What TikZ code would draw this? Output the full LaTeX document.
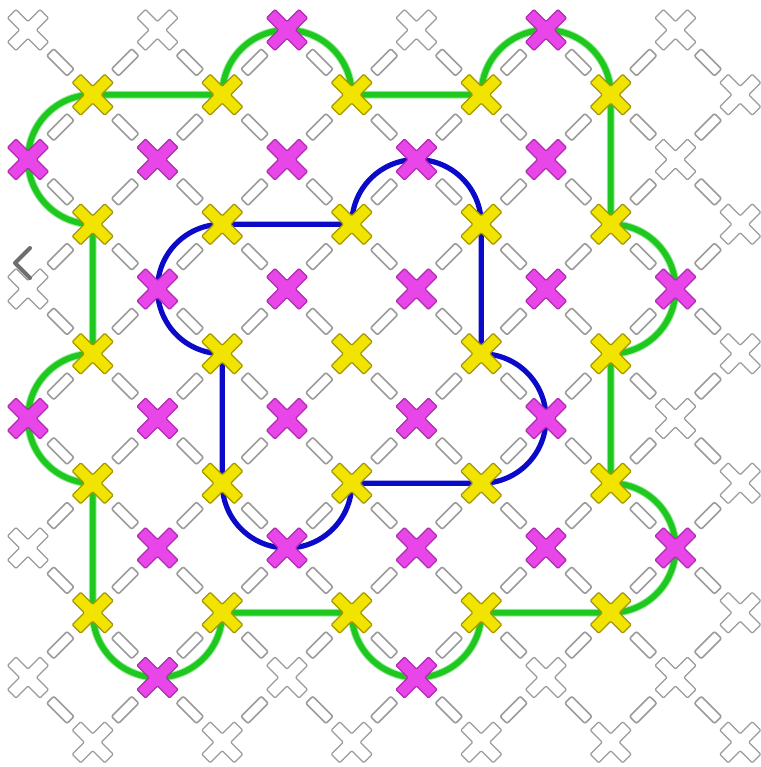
\documentclass[tikz,border=0pt]{standalone}
\definecolor{ygfill}{RGB}{240,228,0}
\definecolor{ygline}{RGB}{165,150,0}
\definecolor{mgfill}{RGB}{232,70,232}
\definecolor{mgline}{RGB}{175,45,175}
\definecolor{grline}{RGB}{155,155,155}
\definecolor{loopgreen}{RGB}{30,200,30}
\definecolor{loophalo}{RGB}{160,235,160}
\definecolor{loopblue}{RGB}{10,10,200}
\definecolor{chev}{RGB}{110,110,110}
\makeatletter
\newcommand\mkkind[2]{%
  \def\fc{white}\def\dc{grline}%
  \ifodd#1\relax\ifodd#2\relax\ifnum#1<10 \ifnum#2<10 \def\fc{ygfill}\def\dc{ygline}\fi\fi\fi\fi
  \edef\mk@key{,#1-#2,}%
  \expandafter\in@\expandafter{\mk@key}{,4-0,8-0,0-2,2-2,4-2,6-2,8-2,2-4,4-4,6-4,8-4,10-4,0-6,2-6,4-6,6-6,8-6,2-8,4-8,6-8,8-8,10-8,2-10,6-10,}%
  \ifin@\def\fc{mgfill}\def\dc{mgline}\fi}
\makeatother
\tikzset{
  xmark/.pic={\path[pic actions, rotate=45, rounded corners=0.8pt]
    (6,23) -- (6,6) -- (23,6) -- (23,-6) -- (6,-6) -- (6,-23)
    -- (-6,-23) -- (-6,-6) -- (-23,-6) -- (-23,6) -- (-6,6) -- (-6,23) -- cycle;},
  dashbox/.style={rectangle, draw=grline, fill=white, line width=1.2pt,
    minimum width=21.5pt, minimum height=7.5pt, inner sep=0pt, rounded corners=1.5pt},
  greenloop/.style={draw=loopgreen, line width=4.4pt, line join=round,
    preaction={draw=loophalo, line width=5.9pt}},
  blueloop/.style={draw=loopblue, line width=3.9pt, line join=round},
}
\begin{document}
\begin{tikzpicture}[x=0.75pt, y=-0.75pt]
\fill[white] (0,0) rectangle (760,767);
\useasboundingbox (0,0) rectangle (760,767);
\def\R{48.5625pt}
% lattice points
\foreach \a in {0,...,11}{\foreach \b in {0,...,11}{%
  \ifodd\numexpr\a+\b\relax\else
    \coordinate (p-\a-\b) at ({28+64.75*\a},{30+64.75*\b});
  \fi}}
% dashed links
\foreach \a in {0,...,10}{\foreach \b in {0,...,11}{%
  \ifodd\numexpr\a+\b\relax\else
    \pgfmathtruncatemacro\na{\a+1}%
    \ifnum\b<11 \pgfmathtruncatemacro\nb{\b+1}%
      \path (p-\a-\b) -- (p-\na-\nb) node[midway, sloped, dashbox] (d-\a-\b-\na-\nb) {};\fi
    \ifnum\b>0 \pgfmathtruncatemacro\nb{\b-1}%
      \path (p-\a-\b) -- (p-\na-\nb) node[midway, sloped, dashbox] (d-\a-\b-\na-\nb) {};\fi
  \fi}}
% green loop
\path[greenloop] (p-1-1) -- (p-3-1) arc[start angle=180, end angle=0, radius=\R]
  -- (p-7-1) arc[start angle=180, end angle=0, radius=\R]
  -- (p-9-3) arc[start angle=90, end angle=-90, radius=\R]
  -- (p-9-7) arc[start angle=90, end angle=-90, radius=\R]
  -- (p-7-9) arc[start angle=0, end angle=-180, radius=\R]
  -- (p-3-9) arc[start angle=0, end angle=-180, radius=\R]
  -- (p-1-7) arc[start angle=270, end angle=90, radius=\R]
  -- (p-1-3) arc[start angle=270, end angle=90, radius=\R] -- cycle;
% blue loop
\path[blueloop] (p-3-3) -- (p-5-3) arc[start angle=180, end angle=0, radius=\R]
  -- (p-7-5) arc[start angle=90, end angle=-90, radius=\R]
  -- (p-5-7) arc[start angle=0, end angle=-180, radius=\R]
  -- (p-3-5) arc[start angle=270, end angle=90, radius=\R] -- cycle;
% crosses
\foreach \a in {0,...,11}{\foreach \b in {0,...,11}{%
  \ifodd\numexpr\a+\b\relax\else
    \mkkind{\a}{\b}%
    \pic[fill=\fc, draw=\dc, line width=0.9pt] at (p-\a-\b) {xmark};
  \fi}}
% screenshot chevron
\coordinate (c1) at (30,248);
\coordinate (c2) at (15,263);
\coordinate (c3) at (30,278);
\draw[chev, line width=3pt, line cap=round, line join=round] (c1) -- (c2) -- (c3);
\end{tikzpicture}
\end{document}
